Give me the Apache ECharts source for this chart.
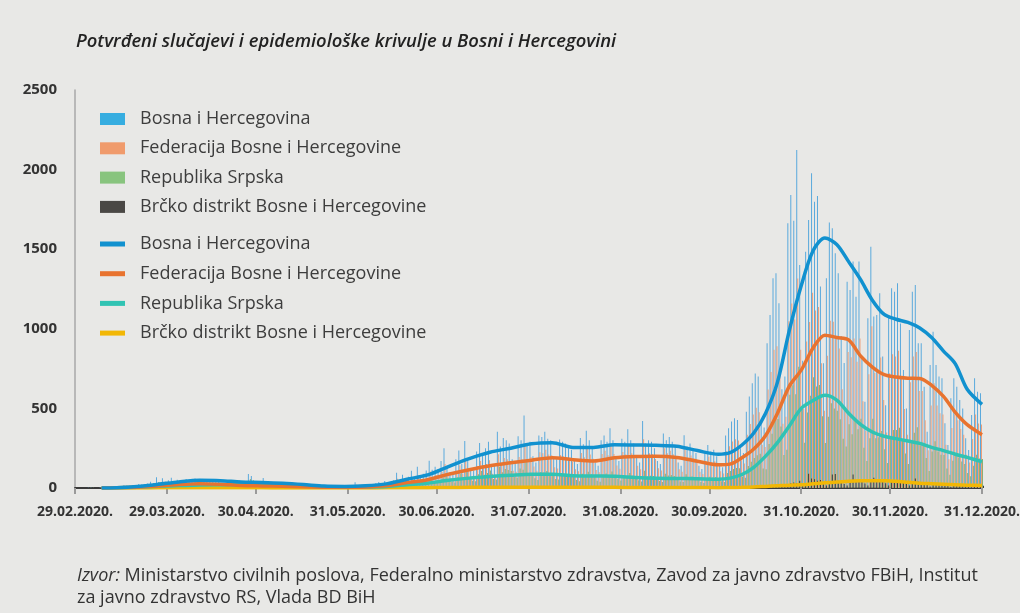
<!DOCTYPE html>
<html>
<head>
<meta charset="utf-8">
<title>Potvrđeni slučajevi i epidemiološke krivulje u Bosni i Hercegovini</title>
<script src="https://cdn.jsdelivr.net/npm/echarts@6/dist/echarts.min.js"></script>
<style>
html, body { margin: 0; padding: 0; background: #e8e8e6; }
#chart { width: 1020px; height: 613px; }
</style>
</head>
<body>
<div id="chart"></div>
<script>
// x axis ticks (day index from 29.02.2020.) and their labels
var tickDays = [0, 31, 61, 92, 122, 153, 184, 214, 245, 275, 306];
var tickLabels = ['29.02.2020.', '29.03.2020.', '30.04.2020.', '31.05.2020.', '30.06.2020.',
	'31.07.2020.', '31.08.2020.', '30.09.2020.', '31.10.2020.', '30.11.2020.', '31.12.2020.'];

var names = ['Bosna i Hercegovina', 'Federacija Bosne i Hercegovine', 'Republika Srpska',
	'Brčko distrikt Bosne i Hercegovine'];

// daily confirmed cases, 29.02. - 31.12.2020.
var bih = [0,
	0,0,0,0,2,1,0,0,3,1, 4,2,6,5,2,6,18,15,14,18, 10,25,22,20,28,40,31,67,35,61, 40,
	48,65,40,52,33,30,56,50,48,60, 42,40,38,46,44,55,40,38,25,30, 36,38,40,35,45,30,28,88,75,40,
	30,38,63,25,30,28,35,22,18,14, 12,20,16,13,12,10,8,9,14,11, 9,10,8,7,12,9,11,14,8,10, 9,
	6,10,36,12,15,10,8,14,20,30, 38,22,44,30,40,48,96,40,83,60, 70,109,65,134,75,90,110,171,115,134,
	120,170,249,140,98,90,180,236,150,295, 180,120,110,230,283,220,250,290,150,140, 354,260,314,300,280,180,170,325,300,455, 270,
	290,200,160,330,320,354,310,300,190,180, 304,290,280,250,240,170,150,314,275,360, 300,260,160,140,300,330,290,375,300,200, 170,
	310,290,369,300,280,190,160,421,280,300, 290,250,170,150,343,300,320,290,260,160, 140,332,260,280,250,220,140,120,230,270,
	230,240,200,150,130,330,375,417,438,427, 250,220,479,574,658,720,700,400,380,909, 1087,1317,1349,1160,620,700,1663,1840,1679,2123, 1400,
	800,1484,1683,1977,1798,1834,1265,783,1317,1667, 1631,1474,1349,955,785,1296,1244,1422,1202,1422, 826,542,1066,1516,1077,1087,1223,826,520,1077,
	1254,1233,1286,1034,741,500,992,1233,1275,909, 909,636,354,773,982,773,700,689,406,270, 563,689,636,553,500,312,239,459,689,605, 595];

var fbih = [0,
	0,0,0,0,0,0,0,0,2,1, 2,1,3,2,1,3,8,7,6,8, 5,11,10,9,13,18,14,30,16,28, 18,
	26,36,22,29,18,17,31,28,27,33, 23,22,21,25,22,28,18,17,11,13, 14,15,14,12,15,10,9,30,25,13,
	12,15,24,10,12,11,14,9,7,6, 5,8,7,5,5,4,3,4,6,4, 4,4,3,3,5,4,4,6,3,4, 4,
	4,6,22,7,9,6,5,8,12,18, 23,13,27,18,24,29,58,24,50,36, 42,66,39,80,45,54,66,103,69,80,
	72,102,150,84,59,54,108,142,90,177, 108,72,66,138,170,132,150,174,90,84, 212,156,188,180,168,108,102,195,180,273, 170,
	195,135,108,224,218,241,211,205,130,123, 207,198,192,172,165,118,105,220,193,252, 210,183,113,99,213,234,206,266,213,142, 121,
	226,212,269,219,204,139,117,307,204,219, 212,182,124,110,250,219,234,212,190,117, 102,242,190,204,182,161,102,88,168,197,
	161,168,140,105,91,231,263,292,307,299, 175,154,335,402,461,504,476,272,258,618, 728,869,890,754,403,448,1048,1159,1058,1316, 868,
	496,920,1043,1226,1115,1137,784,485,830,1050, 1044,943,877,621,510,855,821,939,793,939, 545,358,714,1016,722,728,820,553,348,721,
	840,826,862,693,496,335,665,826,854,609, 609,426,237,518,658,518,469,462,272,181, 377,462,426,371,335,209,160,308,462,405, 399];

var rs = [0,
	0,0,0,0,2,1,0,0,1,0, 2,1,3,3,1,3,10,8,8,9, 5,13,12,10,15,20,17,36,19,31, 21,
	21,27,18,22,15,12,23,21,21,25, 18,18,16,19,21,27,21,21,14,16, 22,22,24,23,29,20,19,56,49,27,
	18,22,39,15,17,17,21,13,10,8, 7,12,9,8,7,6,5,5,8,7, 5,6,5,4,7,5,7,8,5,6, 5,
	2,4,13,5,6,4,3,6,7,12, 14,9,15,12,15,17,35,15,31,23, 26,40,25,50,28,33,42,63,43,50,
	45,64,94,54,38,34,68,89,57,112, 68,46,42,87,107,84,95,110,57,54, 134,99,120,113,107,69,65,123,114,173, 95,
	89,62,50,100,97,106,93,90,57,54, 92,88,84,75,71,50,43,89,78,102, 86,74,45,39,83,91,80,103,83,56, 47,
	80,75,95,77,73,49,41,108,73,77, 75,65,44,38,89,78,82,75,67,41, 37,86,67,73,65,57,37,31,59,70,
	66,69,58,43,38,95,107,120,126,124, 72,64,138,165,189,206,215,123,117,277, 341,426,434,386,207,240,585,646,589,762, 504,
	284,474,580,696,638,647,451,283,447,532, 499,486,432,309,260,401,338,438,369,435, 253,169,312,435,313,319,358,243,157,316,
	364,365,379,303,217,150,292,347,381,268, 270,188,107,230,294,230,209,207,122,83, 171,207,192,167,151,95,74,139,209,185, 182];

var bd = [0,
	0,0,0,0,0,0,0,0,0,0, 0,0,0,0,0,0,0,0,0,1, 0,1,0,1,0,2,0,1,0,2, 1,
	1,2,0,1,0,1,2,1,0,2, 1,0,1,2,1,0,1,0,0,1, 0,1,2,0,1,0,0,2,1,0,
	0,1,0,0,1,0,0,0,1,0, 0,0,0,0,0,0,0,0,0,0, 0,0,0,0,0,0,0,0,0,0, 0,
	0,0,1,0,0,0,0,0,1,0, 1,0,2,0,1,2,3,1,2,1, 2,3,1,4,2,3,2,5,3,4,
	3,4,5,2,1,2,4,5,3,6, 4,2,2,5,6,4,5,6,3,2, 8,5,6,7,5,3,3,7,6,9, 5,
	6,3,2,6,5,7,6,5,3,3, 5,4,4,3,4,2,2,5,4,6, 4,3,2,2,4,5,4,6,4,2, 2,
	4,3,5,4,3,2,2,6,3,4, 3,3,2,2,4,3,4,3,3,2, 1,4,3,3,3,2,1,1,3,3,
	3,3,2,2,1,4,5,5,5,4, 3,2,6,7,8,10,9,5,5,14, 18,22,25,20,10,12,30,35,32,45, 28,
	20,90,60,55,45,50,30,15,40,85, 88,45,40,25,15,40,85,45,40,48, 28,15,40,65,42,40,45,30,15,40,
	50,42,45,38,28,15,35,60,40,32, 30,22,10,25,30,25,22,20,12,6, 15,20,18,15,14,8,5,12,18,15, 14];

// epidemiological curves, read at these day indices
var avgDays = [9, 14, 21, 28, 35, 42, 49, 56, 63, 70, 77, 84, 91, 98, 105, 112, 119, 126, 133, 140,
	147, 154, 161, 168, 175, 182, 189, 196, 203, 210, 217, 221, 225, 229, 233, 237, 241, 245, 249, 253,
	257, 261, 265, 269, 273, 277, 281, 285, 289, 293, 297, 301, 306];
var bihAvg = [0, 2, 10, 23, 38, 48, 46, 38, 35, 30, 22, 12, 10, 14, 26, 55, 82, 135, 185, 225,
	250, 278, 285, 255, 255, 272, 270, 268, 262, 235, 212, 222, 270, 345, 470, 665, 990, 1270, 1490, 1570,
	1530, 1422, 1310, 1180, 1090, 1060, 1040, 1005, 945, 860, 780, 620, 525];
var fbihAvg = [0, 1, 5, 12, 22, 27, 24, 16, 13, 11, 8, 5, 4, 6, 15, 34, 52, 86, 115, 140,
	158, 175, 190, 178, 170, 190, 198, 200, 192, 168, 146, 150, 190, 245, 330, 470, 640, 740, 880, 960,
	945, 930, 830, 760, 712, 697, 690, 688, 645, 575, 475, 398, 335];
var rsAvg = [0, 1, 5, 11, 15, 19, 20, 21, 21, 18, 13, 8, 5, 6, 10, 20, 30, 48, 62, 72,
	80, 86, 86, 77, 75, 74, 66, 61, 60, 58, 55, 62, 85, 130, 200, 285, 390, 500, 550, 582,
	552, 470, 400, 352, 325, 310, 295, 280, 255, 235, 212, 192, 165];
var bdAvg = [0, 0, 0, 1, 1, 1, 1, 1, 1, 0, 0, 0, 0, 0, 1, 2, 2, 3, 4, 4,
	5, 5, 5, 4, 4, 4, 3, 3, 3, 3, 2, 3, 4, 6, 10, 14, 18, 20, 27, 33,
	37, 42, 45, 46, 46, 42, 36, 30, 27, 24, 21, 18, 15];

var barColors = ['#5aa9dc', '#ee9f78', '#8cae74', '#3e3c3a'];
var legendBarColors = ['#36ade0', '#f09b6c', '#88c47e', '#4a4845'];
var lineColors = ['#1191cf', '#e8732f', '#31c3b3', '#f2b705'];

function pad(n) {
	return n < 10 ? '0' + n : '' + n;
}

var days = [];
for (var i = 0; i < bih.length; i++) {
	var dt = new Date(2020, 1, 29 + i);
	days.push(pad(dt.getDate()) + '.' + pad(dt.getMonth() + 1) + '.2020.');
}

function pairs(values) {
	return avgDays.map(function(d, k) {
		return [d, values[k]];
	});
}

var charts = echarts.init(document.getElementById('chart'));

var barSeries = [bih, fbih, rs, bd].map(function(values, k) {
	return {
		name : names[k],
		type : 'bar',
		data : values,
		barGap : '0%',
		barCategoryGap : '8%',
		itemStyle : {
			color : barColors[k]
		},
		silent : true
	};
});

var lineSeries = [bihAvg, fbihAvg, rsAvg, bdAvg].map(function(values, k) {
	return {
		name : names[k],
		type : 'line',
		data : pairs(values),
		smooth : 0.3,
		showSymbol : false,
		lineStyle : {
			color : lineColors[k],
			width : 3.5
		},
		itemStyle : {
			color : lineColors[k]
		},
		z : 5 - k / 10,
		silent : true
	};
});

var legendText = {
	fontSize : 18,
	color : '#3d3d3d',
	fontFamily : 'Open Sans',
	lineHeight : 20,
	padding : [0, 0, 0, 10]
};

option = {
	backgroundColor : '#e8e8e6',
	animation : false,
	title : [{
		text : 'Potvrđeni slučajevi i epidemiološke krivulje u Bosni i Hercegovini',
		left : 76,
		top : 33,
		padding : 0,
		textStyle : {
			fontFamily : 'Open Sans',
			fontStyle : 'italic',
			fontWeight : 600,
			fontSize : 18.4,
			color : '#222'
		}
	}, {
		text : '{i|Izvor:} Ministarstvo civilnih poslova, Federalno ministarstvo zdravstva, Zavod za javno zdravstvo FBiH, Institut\nza javno zdravstvo RS, Vlada BD BiH',
		left : 77,
		top : 565,
		padding : 0,
		textStyle : {
			fontFamily : 'Open Sans',
			fontWeight : 'normal',
			fontSize : 18,
			lineHeight : 22,
			color : '#333',
			rich : {
				i : {
					fontFamily : 'Open Sans',
					fontStyle : 'italic',
					fontSize : 18,
					lineHeight : 22,
					color : '#333'
				}
			}
		}
	}],
	legend : [{
		orient : 'vertical',
		left : 100,
		top : 109,
		padding : 0,
		icon : 'rect',
		itemWidth : 25,
		itemHeight : 12,
		itemGap : 9.3,
		selectedMode : false,
		textStyle : legendText,
		data : names.map(function(n, k) {
			return {
				name : n,
				itemStyle : {
					color : legendBarColors[k]
				}
			};
		})
	}, {
		orient : 'vertical',
		left : 100,
		top : 234,
		padding : 0,
		icon : 'rect',
		itemWidth : 25,
		itemHeight : 5,
		itemGap : 9.7,
		selectedMode : false,
		textStyle : legendText,
		data : names.map(function(n, k) {
			return {
				name : n,
				itemStyle : {
					color : lineColors[k]
				}
			};
		})
	}],
	grid : {
		left : 75,
		right : 38,
		top : 90,
		bottom : 125,
		outerBoundsMode : 'none'
	},
	xAxis : {
		type : 'category',
		data : days,
		boundaryGap : false,
		axisLine : {
			lineStyle : {
				color : '#3a3a3a',
				width : 2
			}
		},
		axisTick : {
			interval : function(index) {
				return tickDays.indexOf(index) >= 0;
			},
			length : 6,
			lineStyle : {
				color : '#9a9a9a',
				width : 2
			}
		},
		axisLabel : {
			interval : function(index) {
				return tickDays.indexOf(index) >= 0;
			},
			formatter : function(value, index) {
				return tickLabels[tickDays.indexOf(index)];
			},
			margin : 17,
			fontFamily : 'Open Sans',
			fontWeight : 'bold',
			fontSize : 14,
			color : '#333'
		},
		splitLine : {
			show : false
		}
	},
	yAxis : {
		type : 'value',
		min : 0,
		max : 2500,
		interval : 500,
		axisLine : {
			show : true,
			lineStyle : {
				color : '#a8a8a8',
				width : 1.5
			}
		},
		axisTick : {
			show : false
		},
		axisLabel : {
			margin : 18,
			formatter : function(value) {
				return String(value);
			},
			fontFamily : 'Open Sans',
			fontWeight : 'bold',
			fontSize : 15,
			color : '#333'
		},
		splitLine : {
			show : false
		}
	},
	series : barSeries.concat(lineSeries)
};

charts.setOption(option);
</script>
</body>
</html>
